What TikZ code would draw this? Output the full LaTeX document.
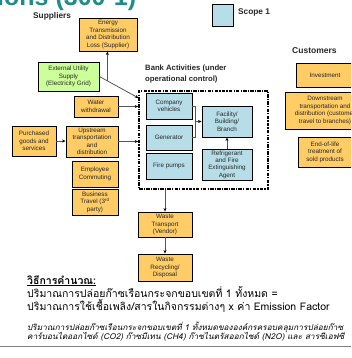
\documentclass[tikz,border=0pt]{standalone}
\usepackage{fontspec}
\setmainfont{Liberation Sans}
\newfontfamily\thaifont[Script=Thai]{Loma}
\newfontfamily\thaiit[Script=Thai,FakeSlant=0.2,FakeStretch=1.04]{Loma}
\usetikzlibrary{arrows.meta,calc}
\definecolor{boxorange}{HTML}{FFCC66}
\definecolor{boxblue}{HTML}{B7DEE8}
\definecolor{boxgreen}{HTML}{CCFF99}
\definecolor{titleteal}{HTML}{1E8C8C}
\definecolor{linkgray}{HTML}{555555}
\begin{document}
\begin{tikzpicture}[x=1pt,y=-1pt,
  box/.style={draw=black, line width=0.9pt, align=center, inner sep=0.5pt, font=\fontsize{6.3}{7.4}\selectfont, text=black!85},
  obox/.style={box, fill=boxorange},
  bbox/.style={box, fill=boxblue},
  gbox/.style={box, fill=boxgreen},
  head/.style={font=\bfseries\fontsize{8.3}{10}\selectfont, anchor=west, inner sep=0pt, text=black!85},
  link/.style={draw=linkgray, line width=0.8pt},
  arr/.style={link, -{Stealth[length=3.5pt,width=3pt,color=black]}},
  thaitext/.style={anchor=base west, inner sep=0pt, text=black},
]
\useasboundingbox (0,0) rectangle (351,358);
\clip (0,0) rectangle (351,358);

% title (cropped)
\node[anchor=base west, inner sep=0pt, text=titleteal, font=\bfseries\fontsize{25}{25}\selectfont] (title) at (-3,6) {ions (300-1)};

% headings
\node[head] (suppliers) at (33,16) {Suppliers};
\node[head] (scopelbl) at (238,12) {Scope 1};
\node[head, font=\bfseries\fontsize{8.5}{10}\selectfont] (customers) at (292,51) {Customers};
\node[head, anchor=north west, align=left, font=\bfseries\fontsize{7.7}{10.5}\selectfont] (banklbl) at (145,65) {Bank Activities (under\\operational control)};

% legend
\node[bbox, minimum width=21pt, minimum height=22pt] (legend) at (222.5,15) {};

% supplier side
\node[obox, minimum width=58pt, minimum height=33pt] (energy) at (108,34.5) {Energy\\Transmission\\and Distribution\\Loss (Supplier)};
\node[gbox, minimum width=61pt, minimum height=29pt] (ext) at (68.5,76.5) {External Utility\\Supply\\(Electricity Grid)};
\node[obox, minimum width=44pt, minimum height=21pt] (water) at (96,106.5) {Water\\withdrawal};
\node[obox, minimum width=44pt, minimum height=30pt] (purch) at (34,141) {Purchased\\goods and\\services};
\node[obox, minimum width=52pt, minimum height=31pt] (upstr) at (92,141.5) {Upstream\\transportation\\and\\distribution};
\node[obox, minimum width=46pt, minimum height=26pt] (emp) at (95,174) {Employee\\Commuting};
\node[obox, minimum width=46pt, minimum height=26pt] (bus) at (95,202) {Business\\Travel (3\textsuperscript{rd}\\party)};

% bank activities
\node[draw=black, line width=1.6pt, dash pattern=on 3.5pt off 1.2pt on 1.2pt off 1.2pt, minimum width=129pt, minimum height=98pt, inner sep=0pt] (bank) at (203.5,140) {};
\node[bbox, minimum width=46pt, minimum height=26pt] (cv) at (169,106) {Company\\vehicles};
\node[bbox, minimum width=46pt, minimum height=25pt] (gen) at (169,137.5) {Generator};
\node[bbox, minimum width=46pt, minimum height=26pt] (fire) at (169,166) {Fire pumps};
\node[bbox, minimum width=50pt, minimum height=31pt] (fac) at (227,121.5) {Facility/\\Building/\\Branch};
\node[bbox, minimum width=50pt, minimum height=31pt] (refr) at (227,164.5) {Refrigerant\\and Fire\\Extinguishing\\Agent};

% waste
\node[obox, minimum width=54pt, minimum height=25pt] (wt) at (165,224.5) {Waste\\Transport\\(Vendor)};
\node[obox, minimum width=54pt, minimum height=27pt] (wr) at (165,267.5) {Waste\\Recycling/\\Disposal};

% customers
\node[obox, minimum width=58pt, minimum height=24pt] (invest) at (325,75) {Investment};
\node[obox, minimum width=80pt, minimum height=37pt] (down) at (325,110.5) {Downstream\\transportation and\\distribution (customer\\travel to branches)};
\node[obox, minimum width=54pt, minimum height=30pt] (eol) at (325,152) {End-of-life\\treatment of\\sold products};

% connectors
\coordinate (extin) at (138.5,98);
\coordinate (br) at ($(ext.east)!0.2025!(extin)$);
\draw[arr] (ext.east) -- (extin);
\draw[arr] (br) -- (br |- energy.south);
\draw[arr] (water.east) -- (water.east -| bank.west);
\draw[arr] (purch.east) -- (purch.east -| upstr.west);
\draw[arr] (upstr.east) -- (upstr.east -| bank.west);
\coordinate (jn) at (195.5,121.5);
\draw[link] (cv.east) -| (jn) |- (gen.east);
\draw[arr] (jn) -- (fac.west);
\draw[arr] (refr.north) -- (fac.south);
\draw[arr] (bank.south -| wt.north) -- (wt.north);
\draw[arr] (wt.south) -- (wr.north);

% calculation text
\node[thaitext, font=\thaifont\bfseries\fontsize{10.5}{12}\selectfont] (calchead) at (27,284) {\underline{วิธีการคำนวณ:}};
\node[thaitext, font=\thaifont\fontsize{10.5}{12}\selectfont] (line2) at (27,297) {ปริมาณการปล่อยก๊าซเรือนกระจกขอบเขตที่ 1 ทั้งหมด =};
\node[thaitext, font=\thaifont\fontsize{10.5}{12}\selectfont] (line3) at (27,310) {ปริมาณการใช้เชื้อเพลิง/สารในกิจกรรมต่างๆ x ค่า Emission Factor};
\node[thaitext, font=\thaiit\fontsize{8}{9}\selectfont] (note1) at (27,330) {ปริมาณการปล่อยก๊าซเรือนกระจกขอบเขตที่ 1 ทั้งหมดขององค์กรครอบคลุมการปล่อยก๊าซ};
\node[thaitext, font=\thaiit\fontsize{8}{9}\selectfont] (note2) at (27,339) {คาร์บอนไดออกไซด์ (CO2) ก๊าซมีเทน (CH4) ก๊าซไนตรัสออกไซด์ (N2O) และ สารซีเอฟซี};
\draw[line width=1.5pt, draw=gray] (0,346.5) -- (351,346.5);
\end{tikzpicture}
\end{document}
